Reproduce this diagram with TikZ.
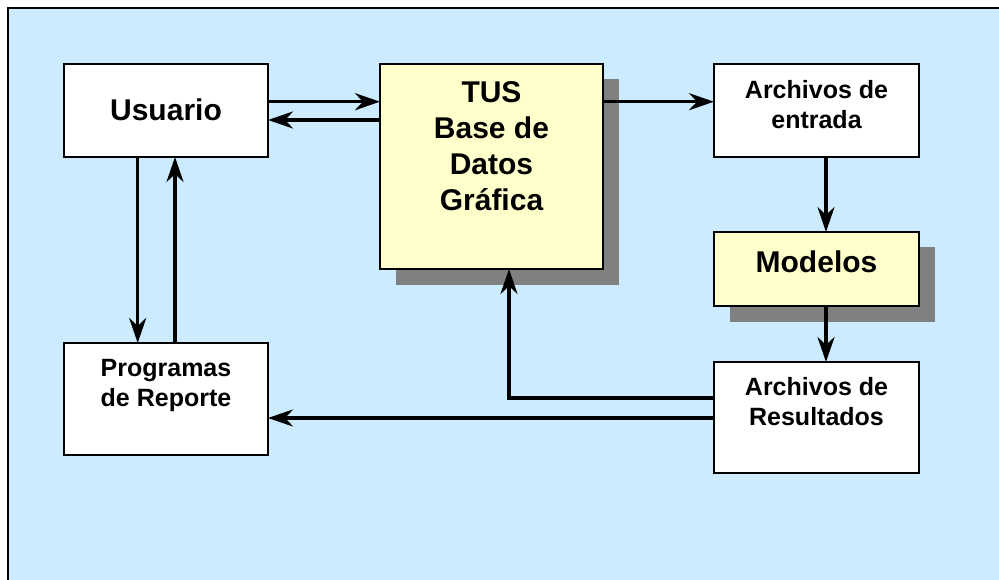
\documentclass[tikz,border=0pt]{standalone}
\usepackage{fontspec}
\setmainfont{Liberation Sans}
\usetikzlibrary{arrows.meta,shadows}
\definecolor{bgblue}{RGB}{204,235,255}
\definecolor{boxyellow}{RGB}{255,255,204}
\definecolor{shadowgray}{RGB}{128,128,128}
\begin{document}
\begin{tikzpicture}[x=1pt,y=-1pt,
  box/.style={draw=black,line width=2pt,fill=white,inner sep=0pt,outer sep=0pt},
  ybox/.style={box,fill=boxyellow,
    general shadow={fill=shadowgray,shadow xshift=15.5pt,shadow yshift=-15.5pt}},
  big/.style={font=\fontsize{30}{36}\selectfont\bfseries,inner sep=0pt,anchor=north,align=center},
  small/.style={font=\fontsize{25}{30}\selectfont\bfseries,inner sep=0pt,anchor=north,align=center},
  arr/.style={line width=3.4pt,-{Stealth[length=25pt,width=17pt,inset=8pt]}}]
\useasboundingbox (0,0) rectangle (999,580);
\fill[bgblue] (8,8) rectangle (999,580);
\draw[line width=2pt] (8,580) -- (8,8) -- (999,8);

\node[box,minimum width=204pt,minimum height=93pt] (u) at (166,110.5) {};
\node[box,minimum width=204pt,minimum height=112pt] (p) at (166,399) {};
\node[ybox,minimum width=223pt,minimum height=205pt] (tus) at (491.5,166.5) {};
\node[box,minimum width=205pt,minimum height=93pt] (ae) at (816.5,110.5) {};
\node[ybox,minimum width=205pt,minimum height=74pt] (mo) at (816.5,269) {};
\node[box,minimum width=205pt,minimum height=111pt] (ar) at (816.5,417.5) {};

\node[big] (tu) at (166,98.3) {Usuario};
\node[small] (tp) at (166,358.8) {Programas\\de Reporte};
\node[big] (tt) at (491.5,81.7) {TUS\\Base de\\Datos\\Gráfica};
\node[small] (ta) at (816.5,80.4) {Archivos de\\entrada};
\node[big] (tm) at (816.5,250.7) {Modelos};
\node[small] (tr) at (816.5,377.1) {Archivos de\\Resultados};

\draw[arr] ([yshift=8.8pt]u.east) -- ([yshift=8.8pt]u.east -| tus.west);
\draw[arr] ([yshift=-9.5pt]u.east -| tus.west) -- ([yshift=-9.5pt]u.east);
\draw[arr] ([yshift=8.8pt]ae.west -| tus.east) -- ([yshift=8.8pt]ae.west);
\draw[arr] ([xshift=9.5pt]ae.south) -- ([xshift=9.5pt]ae.south |- mo.north);
\draw[arr] ([xshift=9.5pt]mo.south) -- ([xshift=9.5pt]mo.south |- ar.north);
\draw[arr] ([xshift=-28.3pt]u.south) -- ([xshift=-28.3pt]u.south |- p.north);
\draw[arr] ([xshift=9pt]p.north) -- ([xshift=9pt]p.north |- u.south);
\draw[arr] ([yshift=19.5pt]ar.west) -| ([xshift=17.5pt]tus.south);
\draw[arr] ([yshift=-0.5pt]ar.west) -- ([yshift=-0.5pt]ar.west -| p.east);
\end{tikzpicture}
\end{document}
